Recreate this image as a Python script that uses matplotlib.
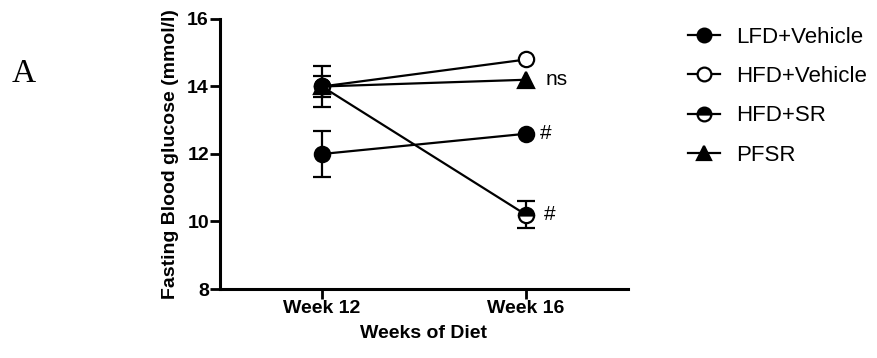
import numpy as np
import matplotlib
matplotlib.use("Agg")
import matplotlib.pyplot as plt

weeks = ["Week 12", "Week 16"]
series = ["LFD+Vehicle", "HFD+Vehicle", "HFD+SR", "PFSR"]
lfd_vehicle = [12.0, 12.6]
hfd_vehicle = [14.0, 14.8]
hfd_sr = [14.0, 10.2]
pfsr = [14.0, 14.2]
lfd_vehicle_sem = [0.68, 0.0]
hfd_vehicle_sem = [0.6, 0.0]
hfd_sr_sem = [0.3, 0.4]
pfsr_sem = [0.0, 0.0]
annotations = ["#", "", "#", "ns"]

plt.rcParams['font.family'] = ['Liberation Sans', 'DejaVu Sans']

fig = plt.figure(figsize=(8.77, 3.58), dpi=100)
ax = fig.add_axes([220/877, 1-289/358, (628-220)/877, (289-19)/358])

x = np.arange(len(weeks))
styles = [
    dict(marker='o', markerfacecolor='black', fillstyle='full'),
    dict(marker='o', markerfacecolor='white', fillstyle='full'),
    dict(marker='o', markerfacecolor='black', fillstyle='top', markerfacecoloralt='white'),
    dict(marker='^', markerfacecolor='black', fillstyle='full'),
]
values = [lfd_vehicle, hfd_vehicle, hfd_sr, pfsr]
sems = [lfd_vehicle_sem, hfd_vehicle_sem, hfd_sr_sem, pfsr_sem]
offsets = [10, 0, 13, 14]

handles = []
for name, vals, sem, st, ann, off in zip(series, values, sems, styles, annotations, offsets):
    vals = np.array(vals); sem = np.array(sem)
    m = sem > 0
    if m.any():
        ax.errorbar(x[m], vals[m], yerr=sem[m], fmt='none', ecolor='black',
                    elinewidth=1.6, capsize=6.5, capthick=1.6, zorder=2)
    h, = ax.plot(x, vals, color='black', linewidth=1.6, markersize=11,
                 markeredgecolor='black', markeredgewidth=1.6, label=name, zorder=3, **st)
    handles.append(h)
    if ann:
        ax.annotate(ann, xy=(x[-1], vals[-1]), xytext=(off, 0), textcoords='offset points',
                    va='center', ha='left', fontsize=15)

ax.set_xlim(-0.5, 1.5)
ax.set_ylim(8, 16)
ax.set_yticks([8, 10, 12, 14, 16])
ax.set_xticks(x)
ax.set_xticklabels(weeks, fontsize=14, fontweight='bold')
for t in ax.get_yticklabels():
    t.set_fontsize(14); t.set_fontweight('bold')
ax.spines['top'].set_visible(False)
ax.spines['right'].set_visible(False)
for s in ['left', 'bottom']:
    ax.spines[s].set_linewidth(2.2)
ax.tick_params(axis='both', width=2.0, length=7, pad=1)
ax.set_xlabel("Weeks of Diet", fontsize=14, fontweight='bold', labelpad=6)
ax.set_ylabel("Fasting Blood glucose (mmol/l)", fontsize=14, fontweight='bold', labelpad=6)

fig.legend(handles=handles, labels=series, loc='upper left', bbox_to_anchor=(688/877, 1-27/358),
           frameon=False, fontsize=16, handlelength=1.45, handletextpad=0.7,
           borderpad=0, borderaxespad=0, labelspacing=0.82, markerscale=0.9)

fig.text(24/877, 1-74/358, "A", fontsize=24, family='Liberation Serif', ha='center', va='center')

fig.savefig("out.png", dpi=100)
